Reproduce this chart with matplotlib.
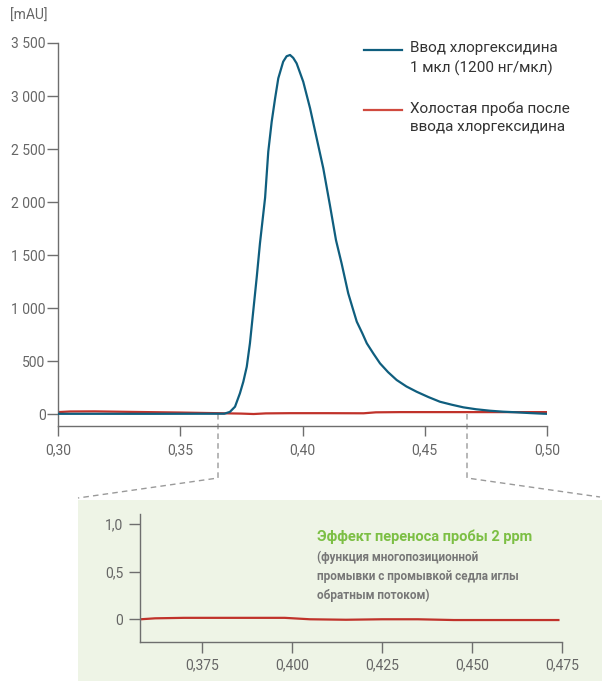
import matplotlib
matplotlib.use("Agg")
import matplotlib.pyplot as plt
from matplotlib.lines import Line2D
from matplotlib.patches import Rectangle

plt.rcParams['font.family'] = ['Roboto', 'DejaVu Sans']

# ---- data ----
blue_x = [0.300, 0.340, 0.368, 0.3703, 0.3724, 0.3744, 0.3758, 0.3772, 0.3785, 0.3799,
          0.3813, 0.3826, 0.3847, 0.3860, 0.3874, 0.3888, 0.3901, 0.3921, 0.3935, 0.3949,
          0.3962, 0.3976, 0.4003, 0.4031, 0.4058, 0.4085, 0.4112, 0.4137, 0.4160, 0.4187,
          0.4205, 0.4222, 0.4245, 0.4263, 0.4290, 0.4317, 0.4350, 0.4385, 0.4425, 0.4467,
          0.4515, 0.4562, 0.4610, 0.4658, 0.4710, 0.4767, 0.4820, 0.4876, 0.4930, 0.4985,
          0.500]
blue_y = [2, 2, 3, 20, 69, 195, 305, 446, 667, 981,
          1295, 1610, 2040, 2475, 2758, 2979, 3167, 3324, 3375, 3387,
          3360, 3308, 3135, 2884, 2601, 2318, 1972, 1640, 1420, 1139,
          1000, 871, 760, 667, 570, 478, 395, 321, 260, 210,
          160, 116, 88, 63, 45, 31, 22, 16, 9, 3,
          2]

red_x = [0.300, 0.305, 0.315, 0.330, 0.350, 0.365, 0.375, 0.380, 0.385, 0.395,
         0.410, 0.425, 0.430, 0.440, 0.460, 0.480, 0.500]
red_y = [18, 24, 25, 20, 14, 8, 4, 0, 6, 8, 8, 7, 16, 18, 18, 18, 18]

inset_x = [0.358, 0.362, 0.370, 0.385, 0.398, 0.405, 0.415, 0.425, 0.435, 0.445, 0.460, 0.474]
inset_y = [0.0, 0.01, 0.015, 0.015, 0.015, 0.0, -0.005, 0.0, 0.0, -0.008, -0.008, -0.008]

main_xticks = [0.30, 0.35, 0.40, 0.45, 0.50]
main_xlabels = ['0,30', '0,35', '0,40', '0,45', '0,50']
main_yticks = [0, 500, 1000, 1500, 2000, 2500, 3000, 3500]
main_ylabels = ['0', '500', '1 000', '1 500', '2 000', '2 500', '3 000', '3 500']
inset_xticks = [0.375, 0.400, 0.425, 0.450, 0.475]
inset_xlabels = ['0,375', '0,400', '0,425', '0,450', '0,475']
inset_yticks = [0, 0.5, 1.0]
inset_ylabels = ['0', '0,5', '1,0']

legend_labels = ['Ввод хлоргексидина\n1 мкл (1200 нг/мкл)',
                 'Холостая проба после\nввода хлоргексидина']

BLUE = '#0f5e7e'
RED = '#c0322a'
GRAY = '#6e6e6e'
TXT = '#666666'
GREEN = '#7cbf44'

W, H = 602, 681
fig = plt.figure(figsize=(W / 100, H / 100), dpi=100)

def rect(l, t, r, b):
    return [l / W, 1 - b / H, (r - l) / W, (b - t) / H]

# inset background
fig.patches.append(Rectangle((78 / W, 0), (W - 78) / W, 1 - 500 / H,
                             transform=fig.transFigure, facecolor='#eef4e6',
                             edgecolor='none', zorder=-10))

# dashed connectors
dash = dict(color='#9a9a9a', lw=1.0, ls=(0, (4, 3)), transform=fig.transFigure, zorder=-5)
def fp(x, y):
    return x / W, 1 - y / H
for pts in [[(218, 414), (218, 478), (78, 498)], [(467, 414), (467, 478), (600, 497)]]:
    xs = [fp(*p)[0] for p in pts]
    ys = [fp(*p)[1] for p in pts]
    fig.lines.append(Line2D(xs, ys, **dash))

# ---- main axes ----
ax = fig.add_axes(rect(58, 43, 547, 426))
ax.set_facecolor('none')
ax.plot(red_x, red_y, color=RED, lw=1.6, zorder=2)
ax.plot(blue_x, blue_y, color=BLUE, lw=1.6, zorder=3)
ax.set_xlim(0.30, 0.50)
ax.set_ylim(-113, 3500)
for s in ['top', 'right']:
    ax.spines[s].set_visible(False)
for s in ['left', 'bottom']:
    ax.spines[s].set_color(GRAY)
    ax.spines[s].set_linewidth(1.0)
ax.set_xticks(main_xticks)
ax.set_xticklabels(main_xlabels)
ax.set_yticks(main_yticks)
ax.set_yticklabels(main_ylabels)
ax.tick_params(axis='both', colors=GRAY, labelcolor=TXT, labelsize=10, width=1.0)
ax.tick_params(axis='y', length=8, pad=1)
ax.tick_params(axis='x', length=7.5, pad=5)
fig.text(10 / W, 1 - 16 / H, '[mAU]', fontsize=10, color=TXT, va='center', ha='left')

# legend
leg_colors = [BLUE, '#d04a3f']
for i, (lab, c) in enumerate(zip(legend_labels, leg_colors)):
    yc = [50, 110][i]
    fig.lines.append(Line2D([364 / W, 402 / W], [1 - yc / H, 1 - yc / H],
                            color=c, lw=1.6, transform=fig.transFigure))
    fig.text(410 / W, 1 - (yc - 9) / H, lab, fontsize=11, color='#333333',
             va='top', ha='left', linespacing=1.45)

# ---- inset ----
ai = fig.add_axes(rect(140, 514.3, 562, 641.7))
ai.set_facecolor('none')
ai.set_zorder(2)
ai.plot(inset_x, inset_y, color=RED, lw=1.6)
ai.set_xlim(0.3578, 0.475)
ai.set_ylim(-0.235, 1.1)
for s in ['top', 'right']:
    ai.spines[s].set_visible(False)
for s in ['left', 'bottom']:
    ai.spines[s].set_color(GRAY)
    ai.spines[s].set_linewidth(1.0)
ai.set_xticks(inset_xticks)
ai.set_xticklabels(inset_xlabels)
ai.set_yticks(inset_yticks)
ai.set_yticklabels(inset_ylabels)
ai.tick_params(axis='both', colors=GRAY, labelcolor=TXT, labelsize=10, width=1.0)
ai.tick_params(axis='y', length=8, pad=4)
ai.tick_params(axis='x', length=8, pad=4)

fig.text(317 / W, 1 - 537 / H, 'Эффект переноса пробы 2 ppm', fontsize=10.5,
         fontweight='bold', color=GREEN, va='center', ha='left', zorder=5)
fig.text(317 / W, 1 - 551 / H,
         '(функция многопозиционной\nпромывки с промывкой седла иглы\nобратным потоком)',
         fontsize=8.5, fontweight='bold', color='#777777', va='top', ha='left',
         linespacing=1.55, zorder=5)

fig.savefig('out.png', dpi=100)
